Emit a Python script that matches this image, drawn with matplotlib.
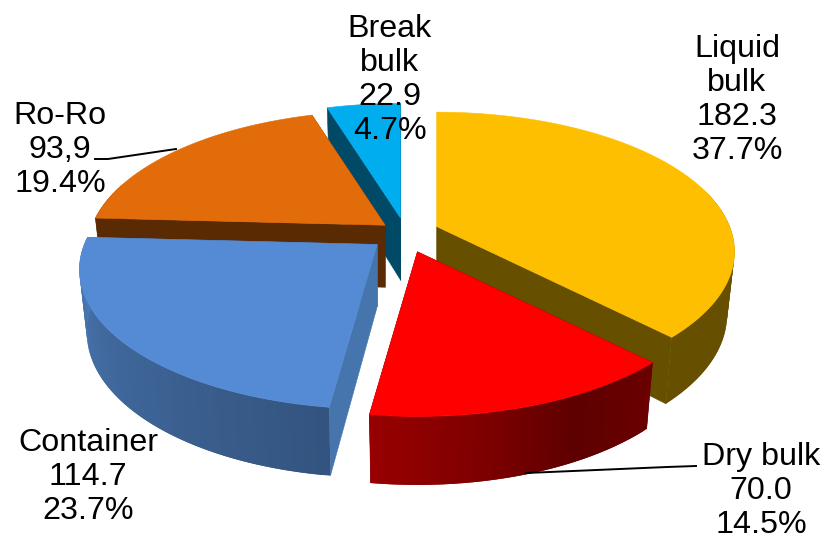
import matplotlib
matplotlib.use("Agg")
import matplotlib.pyplot as plt
from matplotlib.colors import to_rgb
import numpy as np

plt.rcParams["font.family"] = ["Liberation Sans", "DejaVu Sans"]

# Data
CATEGORIES = ["Liquid\nbulk", "Dry bulk", "Container", "Ro-Ro", "Break\nbulk"]
VALUES = [182.3, 70.0, 114.7, 93.9, 22.9]
VALUE_LABELS = ["182.3", "70.0", "114.7", "93,9", "22.9"]
PERCENT_LABELS = ["37.7%", "14.5%", "23.7%", "19.4%", "4.7%"]

# Slice styles, same order as the data
TOP_COLORS = ["#FDBF00", "#FF0000", "#558AD4", "#E26C09", "#00AEEF"]
START_FACE = ["#5E4800", "#5E0000", "#4675AE", "#5A2A02", "#004A68"]
END_FACE = ["#665000", "#700000", "#3C6496", "#5A2A02", "#004A68"]
WALL_STOPS = [
    ["#665000", "#665000"],
    ["#6A0000", "#5E0000", "#800000", "#980000"],
    ["#33547F", "#3F6699", "#4A79B5"],
    ["#5A2A02", "#5A2A02"],
    ["#004A68", "#004A68"],
]
EXPLODE = [0.95, 1.1, 1.0, 0.7, 0.85]
DRAW_ORDER = [4, 0, 3, 2, 1]

LABEL_POS = [(737, 100), (761, 491), (88, 477), (60, 150), (390, 80)]

# Pie projection
CX, CY = 405, 233
RX, RY = 293, 135
PERSP = 0.18
EXPLODE_X, EXPLODE_Y = 36, 18
WALL_H = 62
WALL_SHRINK = 0.975


def project(theta):
    u, v = np.sin(theta), np.cos(theta)
    s = 1 / (1 + PERSP * v)
    return RX * u * s, -RY * v * s, s


def rim_points(apex, theta):
    dx, dy, s = project(theta)
    top = np.column_stack([apex[0] + dx, apex[1] + dy])
    bottom = np.column_stack([apex[0] + dx * WALL_SHRINK,
                              apex[1] + dy + WALL_H * np.sqrt(s)])
    return top, bottom


def wall_color(stops, t):
    rgb = np.array([to_rgb(c) for c in stops])
    pos = np.linspace(0, 1, len(stops))
    return [np.interp(t, pos, rgb[:, i]) for i in range(3)]


def draw_slice(ax, i, start, end):
    mid = (start + end) / 2
    apex = (CX + EXPLODE_X * EXPLODE[i] * np.sin(mid),
            CY - EXPLODE_Y * EXPLODE[i] * np.cos(mid))
    apex_low = (apex[0], apex[1] + WALL_H)
    theta = np.linspace(start, end, 80)
    top, bottom = rim_points(apex, theta)

    # cut faces
    ax.fill([apex[0], top[-1, 0], bottom[-1, 0], apex_low[0]],
            [apex[1], top[-1, 1], bottom[-1, 1], apex_low[1]],
            color=END_FACE[i], lw=0.4)
    ax.fill([apex[0], top[0, 0], bottom[0, 0], apex_low[0]],
            [apex[1], top[0, 1], bottom[0, 1], apex_low[1]],
            color=START_FACE[i], lw=0.4)

    # outer wall, overlapping strips so the shading runs along the rim
    for k in range(len(theta) - 1):
        if np.cos(theta[k]) > 0.3:
            continue
        n = min(k + 2, len(theta) - 1)
        c = wall_color(WALL_STOPS[i], k / (len(theta) - 2))
        ax.fill([top[k, 0], top[n, 0], bottom[n, 0], bottom[k, 0]],
                [top[k, 1], top[n, 1], bottom[n, 1], bottom[k, 1]],
                color=c, lw=0)

    ax.fill(np.r_[apex[0], top[:, 0]], np.r_[apex[1], top[:, 1]],
            color=TOP_COLORS[i], lw=0.4)


fig = plt.figure(figsize=(8.25, 5.42), dpi=100)
ax = fig.add_axes([0, 0, 1, 1])
ax.set_xlim(0, 825)
ax.set_ylim(542, 0)
ax.axis("off")

edges = np.r_[0, np.cumsum(VALUES)] / sum(VALUES) * 2 * np.pi
for i in DRAW_ORDER:
    draw_slice(ax, i, edges[i], edges[i + 1])

# Leader lines
ax.plot([95, 108, 176], [159, 159, 149], color="black", lw=1.4)
ax.plot([526, 667, 696], [473, 467, 466], color="black", lw=1.4)

for name, val, pct, (x, y) in zip(CATEGORIES, VALUE_LABELS, PERCENT_LABELS, LABEL_POS):
    ax.text(x, y, f"{name}\n{val}\n{pct}", ha="center", va="center",
            fontsize=23.2, linespacing=1.16, color="black")

fig.savefig("out.png", dpi=100)
